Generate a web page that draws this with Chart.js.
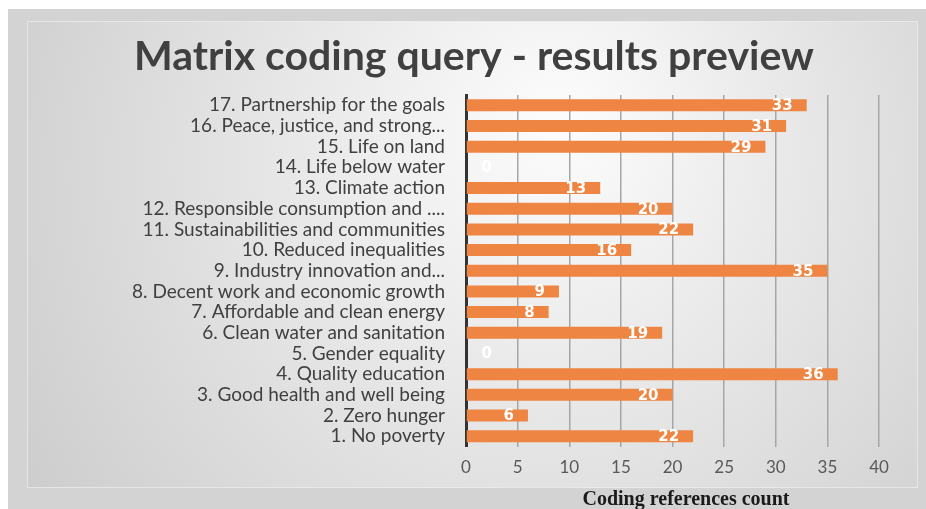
<!DOCTYPE html>
<html>
<head>
<meta charset="utf-8">
<script src="https://cdn.jsdelivr.net/npm/chart.js@4.4.1/dist/chart.umd.min.js"></script>
<style>
  html, body { margin: 0; padding: 0; background: #ffffff; }
  #wrap { width: 926px; height: 509px; position: relative; }
</style>
</head>
<body>
<div id="wrap"><canvas id="sdg-chart" width="926" height="509"></canvas></div>
<script>
// data, top to bottom
var goals = [
    "17. Partnership for the goals",
    "16. Peace, justice, and strong...",
    "15. Life on land",
    "14. Life below water",
    "13. Climate action",
    "12. Responsible consumption and ....",
    "11. Sustainabilities and communities",
    "10. Reduced inequalities",
    "9. Industry innovation and...",
    "8. Decent work and economic growth",
    "7. Affordable and clean energy",
    "6. Clean water and sanitation",
    "5. Gender equality",
    "4. Quality education",
    "3. Good health and well being",
    "2. Zero hunger",
    "1. No poverty"
];
var counts = [33, 31, 29, 0, 13, 20, 22, 16, 35, 9, 8, 19, 0, 36, 20, 6, 22];
var xTicks = [0, 5, 10, 15, 20, 25, 30, 35, 40];
var chartTitle = "Matrix coding query - results preview";
var xTitle = "Coding references count";

// slide-like background + title + axis title
var backdrop = {
    id: 'backdrop',
    beforeDraw: function(chart) {
        var c = chart.ctx;
        c.save();
        c.fillStyle = '#ffffff';
        c.fillRect(0, 0, chart.width, chart.height);
        c.fillStyle = '#d4d3d4';
        c.fillRect(8, 9, chart.width - 8, chart.height - 9);
        var g = c.createRadialGradient(560, 120, 20, 520, 200, 640);
        g.addColorStop(0, '#fbfbfb');
        g.addColorStop(0.45, '#e4e4e4');
        g.addColorStop(1, '#c8c8c8');
        c.fillStyle = g;
        c.fillRect(27, 21, 891, 467);
        c.strokeStyle = 'rgba(235,235,235,0.8)';
        c.lineWidth = 1;
        c.strokeRect(27.5, 21.5, 890, 466);
        c.restore();
    },
    afterDraw: function(chart) {
        var c = chart.ctx;
        c.save();
        c.fillStyle = '#404040';
        c.font = 'bold 41px Lato';
        c.textAlign = 'center';
        c.textBaseline = 'middle';
        c.fillText(chartTitle, 474, 57);
        c.fillStyle = '#1a1a1a';
        c.font = 'bold 20px "Liberation Serif"';
        c.fillText(xTitle, 686, 500);
        c.restore();
    }
};

// white value labels near the end of each bar
var barLabels = {
    id: 'barLabels',
    afterDatasetsDraw: function(chart) {
        var c = chart.ctx;
        var meta = chart.getDatasetMeta(0);
        var x0 = chart.scales.x.getPixelForValue(0);
        c.save();
        c.fillStyle = '#ffffff';
        c.font = 'bold 15px "DejaVu Sans"';
        c.textAlign = 'right';
        c.textBaseline = 'middle';
        meta.data.forEach(function(bar, i) {
            var xr = Math.max(bar.x - 14, x0 + 26);
            c.fillText(String(counts[i]), xr, bar.y + 1);
        });
        c.restore();
    }
};

var ctx1 = document.getElementById('sdg-chart').getContext('2d');
var myChart1 = new Chart(ctx1, {
    type: 'bar',
    data: {
        labels: goals,
        datasets: [{
            data: counts,
            backgroundColor: '#ee8542',
            borderWidth: 0,
            barPercentage: 0.58,
            categoryPercentage: 1.0
        }]
    },
    options: {
        indexAxis: 'y',
        responsive: false,
        animation: false,
        layout: {
            padding: { left: 16, right: 47, top: 95, bottom: 0 }
        },
        scales: {
            x: {
                min: 0,
                max: 40,
                afterBuildTicks: function(scale) {
                    scale.ticks = xTicks.map(function(v) { return { value: v }; });
                },
                afterFit: function(scale) { scale.height = 62.5; },
                grid: {
                    color: '#a6a6a6',
                    lineWidth: 1.5,
                    drawTicks: false
                },
                border: { display: false },
                ticks: {
                    padding: 11,
                    color: '#595959',
                    font: { family: 'Lato', size: 17 }
                }
            },
            y: {
                afterFit: function(scale) { scale.width = 450; },
                grid: { display: false, drawTicks: false },
                border: { display: true, color: '#333333', width: 3 },
                ticks: {
                    padding: 21,
                    color: '#404040',
                    autoSkip: false,
                    font: { family: 'Lato', size: 19 }
                }
            }
        },
        plugins: {
            legend: { display: false },
            tooltip: { enabled: false }
        }
    },
    plugins: [backdrop, barLabels]
});
</script>
</body>
</html>
